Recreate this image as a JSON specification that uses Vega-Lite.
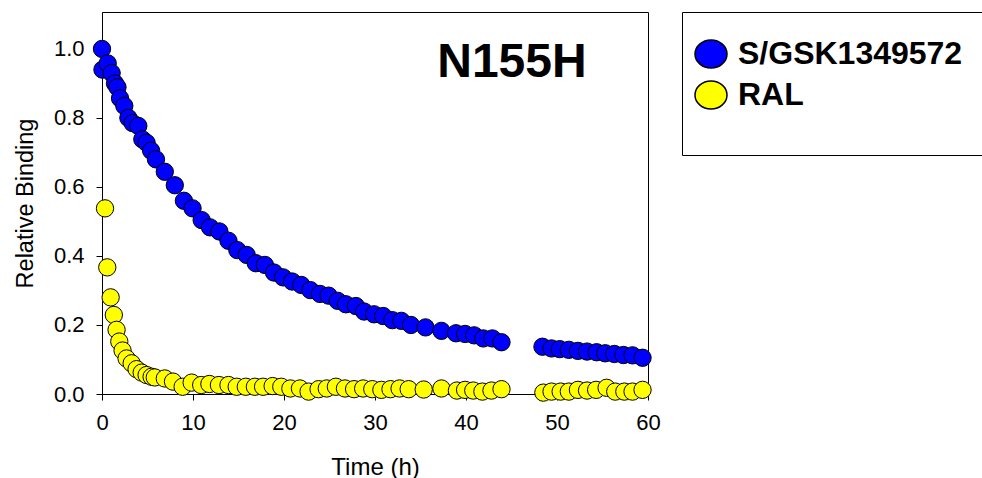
{
  "$schema": "https://vega.github.io/schema/vega-lite/v6.json",
  "width": 546,
  "height": 382,
  "autosize": {"type": "none"},
  "padding": {"left": 102, "top": 12, "right": 334, "bottom": 84},
  "background": "white",
  "config": {
    "view": {"stroke": "#000000", "strokeWidth": 1},
    "font": "Liberation Sans"
  },
  "layer": [
    {
      "data": {
        "values": [
          {"t": 0.0, "v": 1.0, "series": "S/GSK1349572"},
          {"t": 0.05, "v": 0.94, "series": "S/GSK1349572"},
          {"t": 0.63, "v": 0.958, "series": "S/GSK1349572"},
          {"t": 1.06, "v": 0.93, "series": "S/GSK1349572"},
          {"t": 1.43, "v": 0.9, "series": "S/GSK1349572"},
          {"t": 1.7, "v": 0.889, "series": "S/GSK1349572"},
          {"t": 1.98, "v": 0.857, "series": "S/GSK1349572"},
          {"t": 2.45, "v": 0.835, "series": "S/GSK1349572"},
          {"t": 2.9, "v": 0.8, "series": "S/GSK1349572"},
          {"t": 3.36, "v": 0.785, "series": "S/GSK1349572"},
          {"t": 3.99, "v": 0.777, "series": "S/GSK1349572"},
          {"t": 4.43, "v": 0.738, "series": "S/GSK1349572"},
          {"t": 4.9, "v": 0.728, "series": "S/GSK1349572"},
          {"t": 5.4, "v": 0.705, "series": "S/GSK1349572"},
          {"t": 5.93, "v": 0.68, "series": "S/GSK1349572"},
          {"t": 6.9, "v": 0.644, "series": "S/GSK1349572"},
          {"t": 8.0, "v": 0.605, "series": "S/GSK1349572"},
          {"t": 9.0, "v": 0.56, "series": "S/GSK1349572"},
          {"t": 9.95, "v": 0.538, "series": "S/GSK1349572"},
          {"t": 10.95, "v": 0.504, "series": "S/GSK1349572"},
          {"t": 11.87, "v": 0.483, "series": "S/GSK1349572"},
          {"t": 12.9, "v": 0.471, "series": "S/GSK1349572"},
          {"t": 13.9, "v": 0.444, "series": "S/GSK1349572"},
          {"t": 14.87, "v": 0.417, "series": "S/GSK1349572"},
          {"t": 15.9, "v": 0.403, "series": "S/GSK1349572"},
          {"t": 16.9, "v": 0.379, "series": "S/GSK1349572"},
          {"t": 17.9, "v": 0.374, "series": "S/GSK1349572"},
          {"t": 18.9, "v": 0.352, "series": "S/GSK1349572"},
          {"t": 19.9, "v": 0.338, "series": "S/GSK1349572"},
          {"t": 20.9, "v": 0.326, "series": "S/GSK1349572"},
          {"t": 21.9, "v": 0.316, "series": "S/GSK1349572"},
          {"t": 22.9, "v": 0.301, "series": "S/GSK1349572"},
          {"t": 23.95, "v": 0.29, "series": "S/GSK1349572"},
          {"t": 24.9, "v": 0.285, "series": "S/GSK1349572"},
          {"t": 25.9, "v": 0.27, "series": "S/GSK1349572"},
          {"t": 26.8, "v": 0.26, "series": "S/GSK1349572"},
          {"t": 27.9, "v": 0.255, "series": "S/GSK1349572"},
          {"t": 28.8, "v": 0.239, "series": "S/GSK1349572"},
          {"t": 29.9, "v": 0.231, "series": "S/GSK1349572"},
          {"t": 30.9, "v": 0.226, "series": "S/GSK1349572"},
          {"t": 31.9, "v": 0.214, "series": "S/GSK1349572"},
          {"t": 32.9, "v": 0.212, "series": "S/GSK1349572"},
          {"t": 33.95, "v": 0.2, "series": "S/GSK1349572"},
          {"t": 35.55, "v": 0.193, "series": "S/GSK1349572"},
          {"t": 37.3, "v": 0.183, "series": "S/GSK1349572"},
          {"t": 38.9, "v": 0.176, "series": "S/GSK1349572"},
          {"t": 39.9, "v": 0.174, "series": "S/GSK1349572"},
          {"t": 40.9, "v": 0.17, "series": "S/GSK1349572"},
          {"t": 41.9, "v": 0.161, "series": "S/GSK1349572"},
          {"t": 42.9, "v": 0.161, "series": "S/GSK1349572"},
          {"t": 43.9, "v": 0.15, "series": "S/GSK1349572"},
          {"t": 48.4, "v": 0.137, "series": "S/GSK1349572"},
          {"t": 49.4, "v": 0.132, "series": "S/GSK1349572"},
          {"t": 50.3, "v": 0.13, "series": "S/GSK1349572"},
          {"t": 51.3, "v": 0.128, "series": "S/GSK1349572"},
          {"t": 52.3, "v": 0.125, "series": "S/GSK1349572"},
          {"t": 53.3, "v": 0.123, "series": "S/GSK1349572"},
          {"t": 54.35, "v": 0.121, "series": "S/GSK1349572"},
          {"t": 55.3, "v": 0.118, "series": "S/GSK1349572"},
          {"t": 56.3, "v": 0.116, "series": "S/GSK1349572"},
          {"t": 57.3, "v": 0.113, "series": "S/GSK1349572"},
          {"t": 58.3, "v": 0.112, "series": "S/GSK1349572"},
          {"t": 59.4, "v": 0.105, "series": "S/GSK1349572"},
          {"t": 0.33, "v": 0.538, "series": "RAL"},
          {"t": 0.58, "v": 0.367, "series": "RAL"},
          {"t": 0.95, "v": 0.28, "series": "RAL"},
          {"t": 1.3, "v": 0.229, "series": "RAL"},
          {"t": 1.6, "v": 0.186, "series": "RAL"},
          {"t": 1.9, "v": 0.152, "series": "RAL"},
          {"t": 2.26, "v": 0.126, "series": "RAL"},
          {"t": 2.7, "v": 0.103, "series": "RAL"},
          {"t": 3.26, "v": 0.089, "series": "RAL"},
          {"t": 3.8, "v": 0.072, "series": "RAL"},
          {"t": 4.36, "v": 0.062, "series": "RAL"},
          {"t": 4.9, "v": 0.055, "series": "RAL"},
          {"t": 5.45, "v": 0.05, "series": "RAL"},
          {"t": 5.8, "v": 0.048, "series": "RAL"},
          {"t": 6.9, "v": 0.045, "series": "RAL"},
          {"t": 7.8, "v": 0.036, "series": "RAL"},
          {"t": 8.86, "v": 0.021, "series": "RAL"},
          {"t": 9.85, "v": 0.033, "series": "RAL"},
          {"t": 10.9, "v": 0.026, "series": "RAL"},
          {"t": 11.8, "v": 0.029, "series": "RAL"},
          {"t": 12.85, "v": 0.026, "series": "RAL"},
          {"t": 13.9, "v": 0.026, "series": "RAL"},
          {"t": 14.8, "v": 0.021, "series": "RAL"},
          {"t": 15.8, "v": 0.021, "series": "RAL"},
          {"t": 16.8, "v": 0.021, "series": "RAL"},
          {"t": 17.7, "v": 0.021, "series": "RAL"},
          {"t": 18.75, "v": 0.023, "series": "RAL"},
          {"t": 19.7, "v": 0.021, "series": "RAL"},
          {"t": 20.7, "v": 0.016, "series": "RAL"},
          {"t": 21.75, "v": 0.016, "series": "RAL"},
          {"t": 22.7, "v": 0.007, "series": "RAL"},
          {"t": 23.8, "v": 0.014, "series": "RAL"},
          {"t": 24.7, "v": 0.016, "series": "RAL"},
          {"t": 25.7, "v": 0.021, "series": "RAL"},
          {"t": 26.7, "v": 0.016, "series": "RAL"},
          {"t": 27.7, "v": 0.014, "series": "RAL"},
          {"t": 28.7, "v": 0.016, "series": "RAL"},
          {"t": 29.7, "v": 0.014, "series": "RAL"},
          {"t": 30.7, "v": 0.012, "series": "RAL"},
          {"t": 31.7, "v": 0.014, "series": "RAL"},
          {"t": 32.7, "v": 0.016, "series": "RAL"},
          {"t": 33.7, "v": 0.014, "series": "RAL"},
          {"t": 35.35, "v": 0.013, "series": "RAL"},
          {"t": 37.3, "v": 0.016, "series": "RAL"},
          {"t": 39.0, "v": 0.01, "series": "RAL"},
          {"t": 39.9, "v": 0.012, "series": "RAL"},
          {"t": 40.8, "v": 0.01, "series": "RAL"},
          {"t": 41.8, "v": 0.007, "series": "RAL"},
          {"t": 42.8, "v": 0.01, "series": "RAL"},
          {"t": 43.9, "v": 0.014, "series": "RAL"},
          {"t": 48.5, "v": 0.004, "series": "RAL"},
          {"t": 49.4, "v": 0.007, "series": "RAL"},
          {"t": 50.4, "v": 0.007, "series": "RAL"},
          {"t": 51.3, "v": 0.007, "series": "RAL"},
          {"t": 52.3, "v": 0.012, "series": "RAL"},
          {"t": 53.3, "v": 0.01, "series": "RAL"},
          {"t": 54.3, "v": 0.012, "series": "RAL"},
          {"t": 55.45, "v": 0.018, "series": "RAL"},
          {"t": 56.4, "v": 0.007, "series": "RAL"},
          {"t": 57.4, "v": 0.007, "series": "RAL"},
          {"t": 58.3, "v": 0.007, "series": "RAL"},
          {"t": 59.4, "v": 0.012, "series": "RAL"}
        ]
      },
      "mark": {
        "type": "point",
        "shape": "circle",
        "filled": true,
        "size": 300,
        "stroke": "#000000",
        "strokeWidth": 1,
        "opacity": 1
      },
      "encoding": {
        "x": {
          "field": "t",
          "type": "quantitative",
          "scale": {"domain": [0, 60], "nice": false, "zero": false},
          "axis": {
            "values": [0, 10, 20, 30, 40, 50, 60],
            "format": "d",
            "title": "Time (h)",
            "titleFont": "Liberation Sans",
            "titleFontSize": 24,
            "titleFontWeight": "normal",
            "titleColor": "#000000",
            "titlePadding": 22,
            "labelFont": "Liberation Sans",
            "labelFontSize": 22,
            "labelColor": "#000000",
            "labelPadding": 12,
            "labelFlush": false,
            "labelOverlap": false,
            "tickSize": 6,
            "tickColor": "#000000",
            "domainColor": "#000000",
            "grid": false
          }
        },
        "y": {
          "field": "v",
          "type": "quantitative",
          "scale": {"domain": [0, 1.107], "nice": false},
          "axis": {
            "values": [0, 0.2, 0.4, 0.6, 0.8, 1.0],
            "format": ".1f",
            "title": "Relative Binding",
            "titleFont": "Liberation Sans",
            "titleFontSize": 23.5,
            "titleFontWeight": "normal",
            "titleColor": "#000000",
            "titlePadding": 16,
            "labelFont": "Liberation Sans",
            "labelFontSize": 22,
            "labelColor": "#000000",
            "labelPadding": 12,
            "labelFlush": false,
            "labelOverlap": false,
            "tickSize": 6,
            "tickColor": "#000000",
            "domainColor": "#000000",
            "grid": false
          }
        },
        "color": {
          "field": "series",
          "type": "nominal",
          "scale": {"domain": ["S/GSK1349572", "RAL"], "range": ["#0000ff", "#ffff00"]},
          "legend": {
            "title": " ",
            "titleOrient": "bottom",
            "titleFontSize": 14,
            "titlePadding": 4,
            "orient": "none",
            "legendX": 580,
            "legendY": 0,
            "direction": "vertical",
            "strokeColor": "#000000",
            "fillColor": "#ffffff",
            "padding": 25,
            "symbolType": "M-1,0A1,0.875,0,1,1,1,0A1,0.875,0,1,1,-1,0Z",
            "symbolSize": 1024,
            "symbolOffset": -13,
            "symbolStrokeColor": "#000000",
            "symbolStrokeWidth": 1.5,
            "labelFont": "Liberation Sans",
            "labelFontSize": 32,
            "labelFontWeight": "bold",
            "labelColor": "#000000",
            "labelOffset": 10,
            "labelLimit": 500,
            "rowPadding": 7,
            "encode": {
              "legend": {
                "update": {"strokeWidth": {"value": 2}}
              },
              "symbols": {
                "update": {
                  "fill": [
                    {"test": "datum.value === 'RAL'", "value": "#ffff00"},
                    {"value": "#3333ff"}
                  ],
                  "fillOpacity": {"value": 1}
                }
              }
            }
          }
        }
      }
    },
    {
      "data": {"values": [{"label": "N155H"}]},
      "mark": {
        "type": "text",
        "font": "Liberation Sans",
        "fontSize": 48,
        "fontWeight": "bold",
        "align": "center",
        "baseline": "alphabetic",
        "color": "#000000"
      },
      "encoding": {
        "text": {"field": "label"},
        "x": {"datum": 45.05},
        "y": {"datum": 0.919}
      }
    }
  ]
}
